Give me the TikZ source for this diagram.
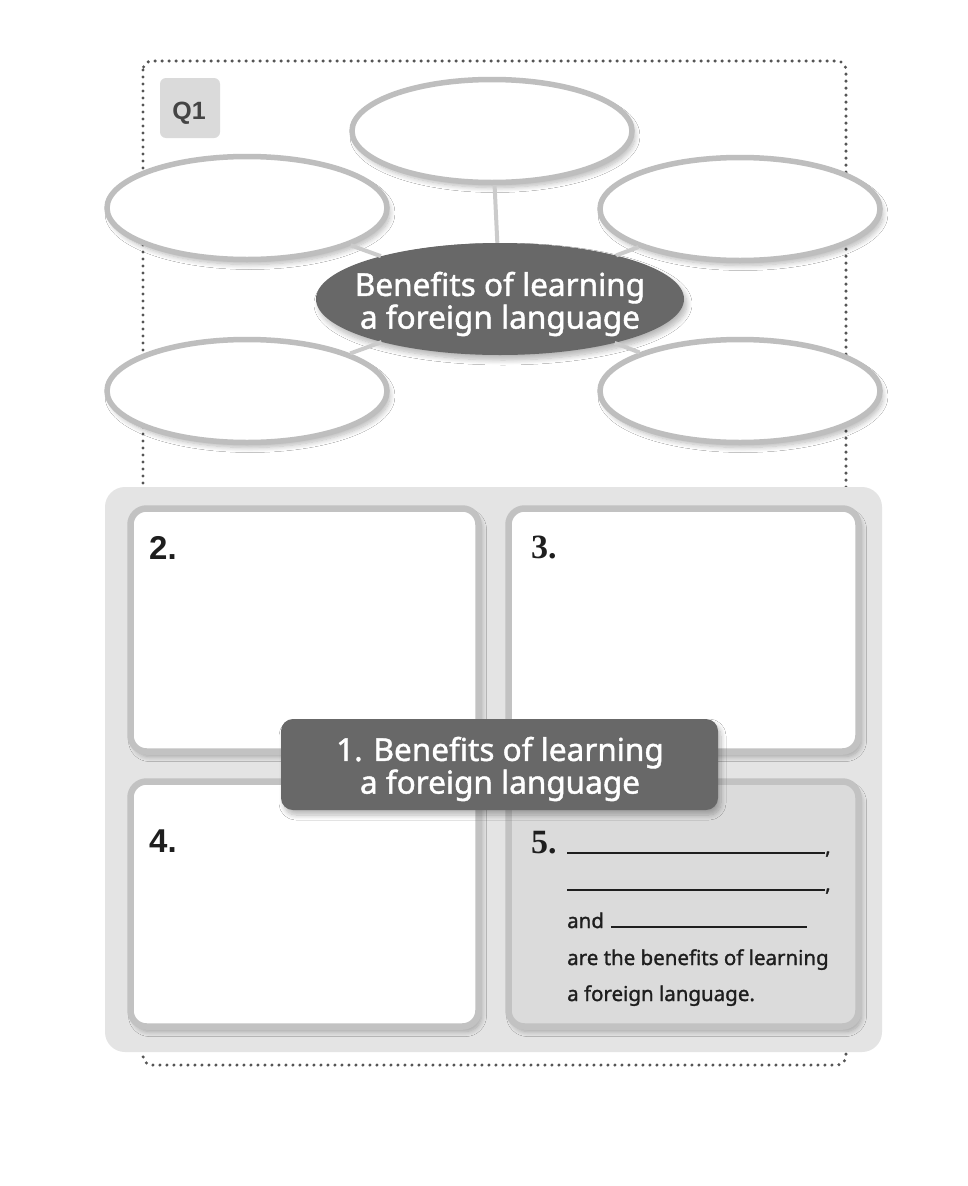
\documentclass[tikz,border=0pt]{standalone}
\usepackage{fontspec}
\newfontfamily\labelfont{Noto Sans}[FakeBold=1.4]
\newfontfamily\numsans{Liberation Sans}
\newfontfamily\numserif{Liberation Serif}
\usetikzlibrary{shapes.geometric,shadows.blur}

\definecolor{ringgray}{HTML}{BEBEBE}
\definecolor{hubfill}{HTML}{686868}
\definecolor{panelgray}{HTML}{E4E4E4}
\definecolor{boxring}{HTML}{C2C2C2}
\definecolor{fivefill}{HTML}{DBDBDB}
\definecolor{dotgray}{HTML}{555555}
\definecolor{qfill}{HTML}{DADADA}
\definecolor{qtext}{HTML}{444444}
\definecolor{linkgray}{HTML}{CBCBCB}
\definecolor{inkblack}{HTML}{1E1E1E}

\begin{document}
\begin{tikzpicture}[x=1pt,y=-1pt,
  softshadow/.style={blur shadow={shadow xshift=3pt,shadow yshift=-5pt,shadow blur steps=8,shadow blur radius=5pt,shadow opacity=28}},
  bubble/.style={ellipse,draw=ringgray,line width=5.5pt,fill=white,
    minimum width=280pt,minimum height=103pt,inner sep=0pt,softshadow},
  hub/.style={ellipse,fill=hubfill,minimum width=368pt,minimum height=112pt,inner sep=0pt,softshadow},
  answerbox/.style={rectangle,rounded corners=16pt,draw=boxring,line width=6.5pt,fill=white,
    inner sep=0pt,softshadow},
  link/.style={linkgray,line width=4pt},
  whitetitle/.style={text=white,align=center,inner sep=0pt,
    font=\labelfont\fontsize{31.5}{31}\selectfont},
  sansnum/.style={anchor=base west,inner sep=0pt,text=inkblack,
    font=\numsans\bfseries\fontsize{33}{33}\selectfont},
  serifnum/.style={anchor=base west,inner sep=0pt,text=inkblack,
    font=\numserif\bfseries\fontsize{34}{34}\selectfont},
  fillline/.style={anchor=base west,inner sep=0pt,text=inkblack,
    font=\labelfont\fontsize{20.5}{20}\selectfont}]

\useasboundingbox (0,0) rectangle (968,1186);
\fill[white] (0,0) rectangle (968,1186);

% dotted outer frame
\draw[dotgray,line width=3.4pt,line cap=round,dash pattern=on 0pt off 7pt,rounded corners=9pt]
  (143,61) rectangle (846,1065);

% Q1 tag
\node[fill=qfill,rounded corners=6pt,minimum width=60pt,minimum height=60pt,inner sep=0pt]
  (qtag) at (190,108) {};
\node[anchor=base,inner sep=0pt,text=qtext,font=\numsans\bfseries\fontsize{25}{25}\selectfont]
  (qtext) at (189,119) {Q1};

% idea web
\node[bubble] (top) at (492,131) {};
\node[bubble] (tl)  at (247,208) {};
\node[bubble] (tr)  at (740,209) {};
\node[bubble] (bl)  at (247,391) {};
\node[bubble] (br)  at (740,391) {};
\node[hub] (hub) at (500,299) {};
\draw[link] (hub) -- (top);
\draw[link] (hub) -- (tl);
\draw[link] (hub) -- (tr);
\draw[link] (hub) -- (bl);
\draw[link] (hub) -- (br);
\node[whitetitle] (hubtext) at (500,304) {Benefits of learning\\a foreign language};

% lower panel with four answer boxes
\fill[panelgray,rounded corners=20pt] (105,487) rectangle (882,1052);
\node[answerbox,minimum width=348pt,minimum height=243pt] (b2) at (304.5,630) {};
\node[answerbox,minimum width=350pt,minimum height=243pt] (b3) at (683.5,630) {};
\node[answerbox,minimum width=348pt,minimum height=245pt] (b4) at (304.5,904) {};
\node[answerbox,minimum width=350pt,minimum height=245pt,fill=fivefill] (b5) at (683.5,904) {};

% central title plate
\node[rectangle,rounded corners=12pt,fill=hubfill,minimum width=437pt,minimum height=91pt,
  inner sep=0pt,softshadow] (plate) at (499.5,764.5) {};
\node[whitetitle,font=\labelfont\fontsize{31.5}{29.5}\selectfont] (platetext) at (500,769)
  {1. Benefits of learning\\a foreign language};

% box numbers
\node[sansnum]  (n2) at (149,559) {2.};
\node[serifnum] (n3) at (531,558) {3.};
\node[sansnum]  (n4) at (149,852) {4.};
\node[serifnum] (n5) at (531,853) {5.};

% summary sentence in box 5
\node[fillline] (l1) at (567,854) {\rule{258pt}{1.6pt},};
\node[fillline] (l2) at (567,891) {\rule{258pt}{1.6pt},};
\node[fillline] (l3) at (567,928) {and\hspace{7pt}\rule{196pt}{1.6pt}};
\node[fillline] (l4) at (567,965) {are the benefits of learning};
\node[fillline] (l5) at (567,1001) {a foreign language.};

\end{tikzpicture}
\end{document}
